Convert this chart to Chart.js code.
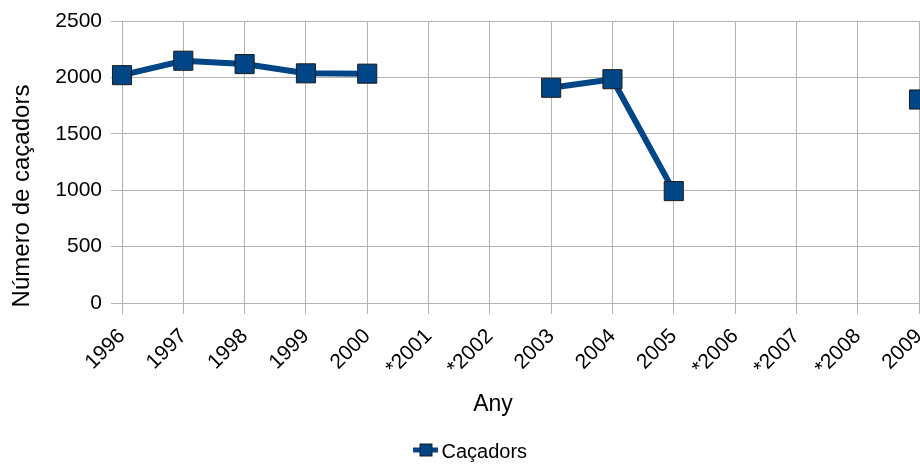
<!DOCTYPE html>
<html>
<head>
<meta charset="utf-8">
<script src="https://cdn.jsdelivr.net/npm/chart.js@4/dist/chart.umd.min.js"></script>
<style>
  html, body { margin: 0; padding: 0; background: #fff; }
  #wrap { width: 920px; height: 464px; }
</style>
</head>
<body>
<div id="wrap"><canvas id="huntersChart"></canvas></div>
<script>
// ---- data ----
const years = ["1996", "1997", "1998", "1999", "2000", "*2001", "*2002", "2003", "2004", "2005", "*2006", "*2007", "*2008", "2009"];
const hunters = [2020, 2148, 2118, 2036, 2033, null, null, 1908, 1984, 992, null, null, null, 1804];
const yTicks = [0, 500, 1000, 1500, 2000, 2500];
const seriesName = "Caçadors";
const xTitle = "Any";
const yTitle = "Número de caçadors";

const BLUE = "#004586";
const EDGE = "#1c1c1c";
const GRID = "#b3b3b3";
const FONT = "'Liberation Sans', Arial, sans-serif";

// axis titles + legend, placed like the original (not centred on the plot)
const extras = {
  id: "extras",
  afterDraw(chart) {
    const ctx = chart.ctx;
    ctx.save();
    ctx.fillStyle = "#000";
    ctx.textBaseline = "middle";

    // y title
    ctx.save();
    ctx.translate(22.5, 196);
    ctx.rotate(-Math.PI / 2);
    ctx.textAlign = "center";
    ctx.font = "24px " + FONT;
    ctx.fillText(yTitle, 0, 0);
    ctx.restore();

    // x title
    ctx.textAlign = "center";
    ctx.font = "23px " + FONT;
    ctx.fillText(xTitle, 493, 405);

    // legend
    const cy = 450;
    ctx.strokeStyle = BLUE;
    ctx.lineWidth = 5;
    ctx.beginPath();
    ctx.moveTo(413, cy);
    ctx.lineTo(438, cy);
    ctx.stroke();
    ctx.fillStyle = BLUE;
    ctx.strokeStyle = EDGE;
    ctx.lineWidth = 1;
    ctx.fillRect(420, cy - 6, 12, 12);
    ctx.strokeRect(420, cy - 6, 12, 12);
    ctx.fillStyle = "#000";
    ctx.textAlign = "left";
    ctx.font = "20px " + FONT;
    ctx.fillText(seriesName, 441.5, 452);
    ctx.restore();
  },
};

const chartEl = document.getElementById("huntersChart");

const lineChart = new Chart(chartEl, {
  type: "line",
  data: {
    labels: years,
    datasets: [
      {
        label: seriesName,
        data: hunters,
        borderColor: BLUE,
        backgroundColor: BLUE,
        borderWidth: 6,
        tension: 0,
        spanGaps: false,
        pointStyle: "rect",
        pointRadius: 13.5,
        pointHoverRadius: 13.5,
        pointBackgroundColor: BLUE,
        pointBorderColor: EDGE,
        pointBorderWidth: 1,
        clip: false,
      },
    ],
  },
  options: {
    responsive: true,
    maintainAspectRatio: false,
    animation: false,
    layout: { autoPadding: false, padding: { top: 21, right: 1, left: 0, bottom: 0 } },
    plugins: {
      legend: { display: false },
      tooltip: { enabled: false },
    },
    scales: {
      x: {
        offset: false,
        afterFit: (s) => {
          s.height = 161;
          s.paddingLeft = 0;
          s.paddingRight = 0;
        },
        grid: { color: GRID, tickLength: 11 },
        border: { color: GRID },
        ticks: {
          color: "#000",
          font: { family: FONT, size: 21 },
          maxRotation: 45,
          minRotation: 45,
          padding: 10,
          autoSkip: false,
        },
      },
      y: {
        min: 0,
        max: 2500,
        afterFit: (s) => {
          s.width = 122;
          s.paddingTop = 0;
          s.paddingBottom = 0;
        },
        afterBuildTicks: (s) => { s.ticks = yTicks.map((v) => ({ value: v })); },
        grid: { color: GRID, tickLength: 11 },
        border: { color: GRID },
        ticks: {
          color: "#000",
          font: { family: FONT, size: 21 },
          padding: 9,
          callback: (v) => String(v),
        },
      },
    },
  },
  plugins: [extras],
});
</script>
</body>
</html>
